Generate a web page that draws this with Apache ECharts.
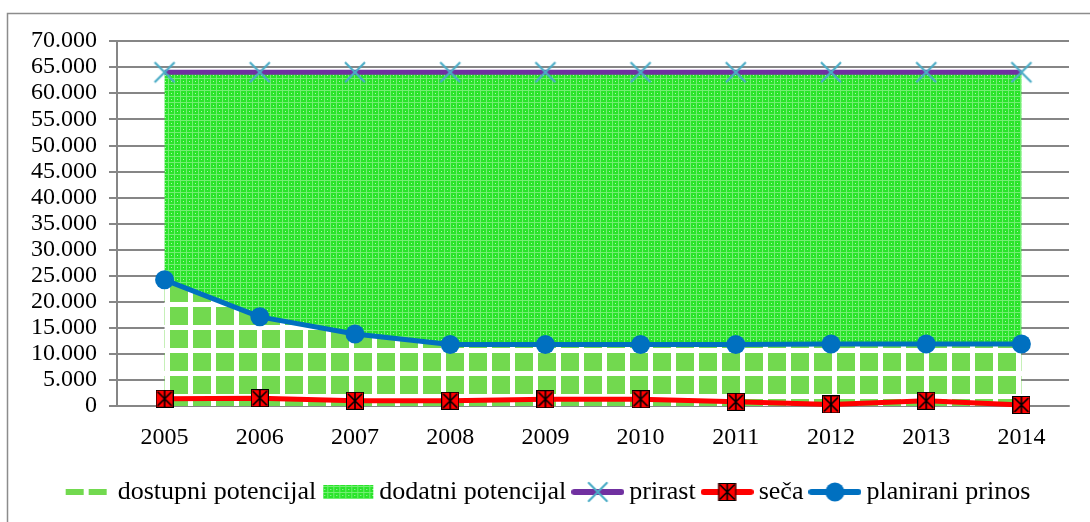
<!DOCTYPE html>
<html>
<head>
<meta charset="utf-8">
<script src="https://cdn.jsdelivr.net/npm/echarts@6/dist/echarts.min.js"></script>
<style>
  html, body { margin: 0; padding: 0; background: #fff; }
  #chart { width: 1090px; height: 522px; }
</style>
</head>
<body>
<div id="chart"></div>
<script>
// podaci
const years = ['2005', '2006', '2007', '2008', '2009', '2010', '2011', '2012', '2013', '2014']
const prirast = [64000, 64000, 64000, 64000, 64000, 64000, 64000, 64000, 64000, 64000]
const seca = [1400, 1500, 1000, 1000, 1300, 1300, 800, 300, 1000, 200]
const planiraniPrinos = [24200, 17100, 13800, 11800, 11800, 11800, 11800, 11900, 11900, 11900]

// dostupni = planirani prinos, dodatni = prirast - planirani prinos
const dostupni = planiraniPrinos.slice()
const dodatni = prirast.map((v, i) => v - planiraniPrinos[i])

const FONT = '"Liberation Serif", "Times New Roman", serif'

const makeCanvas = (w, h, draw) => {
  const c = document.createElement('canvas')
  c.width = w
  c.height = h
  draw(c.getContext('2d'))
  return c
}

// uzorak za dostupni potencijal - zeleni kvadrati
const tilePattern = makeCanvas(23, 23, ctx => {
  ctx.fillStyle = '#ffffff'
  ctx.fillRect(0, 0, 23, 23)
  ctx.fillStyle = '#72d94f'
  for (const dx of [0, -23]) {
    for (const dy of [0, -23]) {
      ctx.fillRect(9 + dx, 8 + dy, 18, 18)
    }
  }
})

// uzorak za dodatni potencijal - sitna mreza
const gridPattern = makeCanvas(6, 6, ctx => {
  ctx.fillStyle = '#2ae42a'
  ctx.fillRect(0, 0, 6, 6)
  ctx.fillStyle = '#72ef72'
  ctx.fillRect(0, 0, 6, 1)
  ctx.fillRect(0, 0, 1, 6)
  ctx.fillStyle = '#b0f6b0'
  ctx.fillRect(3, 3, 1, 1)
})

// simboli
const drawX = (ctx, cx, cy, r) => {
  ctx.strokeStyle = '#4bacc6'
  ctx.lineWidth = 2.2
  ctx.beginPath()
  ctx.moveTo(cx - r, cy - r); ctx.lineTo(cx + r, cy + r)
  ctx.moveTo(cx + r, cy - r); ctx.lineTo(cx - r, cy + r)
  ctx.stroke()
}

const drawSeca = (ctx, x, y) => {
  ctx.fillStyle = '#ff0000'
  ctx.fillRect(x, y, 18, 18)
  ctx.strokeStyle = '#000000'
  ctx.lineWidth = 1
  ctx.strokeRect(x + 0.5, y + 0.5, 17, 17)
  ctx.lineWidth = 1.6
  ctx.beginPath()
  ctx.moveTo(x + 2, y + 2); ctx.lineTo(x + 16, y + 16)
  ctx.moveTo(x + 16, y + 2); ctx.lineTo(x + 2, y + 16)
  ctx.moveTo(x + 9, y + 1); ctx.lineTo(x + 9, y + 17)
  ctx.stroke()
}

const xSymbol = makeCanvas(24, 24, ctx => drawX(ctx, 12, 12, 10)).toDataURL()
const secaSymbol = makeCanvas(18, 18, ctx => drawSeca(ctx, 0, 0)).toDataURL()

// ikone legende
const LW = 53, LH = 24
const lineIcon = (color, drawMark) => makeCanvas(LW, LH, ctx => {
  ctx.strokeStyle = color
  ctx.lineWidth = 6
  ctx.lineCap = 'round'
  ctx.beginPath()
  ctx.moveTo(3, LH / 2); ctx.lineTo(LW - 3, LH / 2)
  ctx.stroke()
  drawMark(ctx)
}).toDataURL()

const dostupniIcon = makeCanvas(LW, LH, ctx => {
  ctx.fillStyle = '#72d94f'
  ctx.fillRect(6, 9, 18, 6)
  ctx.fillRect(29, 9, 18, 6)
}).toDataURL()

const dodatniIcon = makeCanvas(LW, LH, ctx => {
  ctx.fillStyle = ctx.createPattern(gridPattern, 'repeat')
  ctx.fillRect(2, 5, 50, 14)
}).toDataURL()

const prirastIcon = lineIcon('#7030a0', ctx => drawX(ctx, LW / 2, LH / 2, 9))
const secaIcon = lineIcon('#ff0000', ctx => drawSeca(ctx, LW / 2 - 9, LH / 2 - 9))
const prinosIcon = lineIcon('#0070c0', ctx => {
  ctx.fillStyle = '#0070c0'
  ctx.beginPath()
  ctx.arc(LW / 2, LH / 2, 9.5, 0, Math.PI * 2)
  ctx.fill()
})

const chart = echarts.init(document.getElementById('chart'))

const option = {
  animation: false,
  textStyle: { fontFamily: FONT },
  graphic: [{
    type: 'rect',
    shape: { x: 7.5, y: 13.5, width: 1200, height: 1200 },
    style: { fill: 'none', stroke: '#8c8c8c', lineWidth: 1.5 },
    silent: true,
    z: -10
  }],
  grid: {
    left: 117,
    right: 21,
    top: 41,
    bottom: 116
  },
  legend: {
    bottom: 12,
    left: 'center',
    itemWidth: LW,
    itemHeight: LH,
    itemGap: 5,
    textStyle: { fontFamily: FONT, fontSize: 26, color: '#000' },
    data: [
      { name: 'dostupni potencijal', icon: 'image://' + dostupniIcon },
      { name: 'dodatni potencijal', icon: 'image://' + dodatniIcon },
      { name: 'prirast', icon: 'image://' + prirastIcon },
      { name: 'seča', icon: 'image://' + secaIcon },
      { name: 'planirani prinos', icon: 'image://' + prinosIcon }
    ]
  },
  xAxis: {
    type: 'category',
    data: years,
    boundaryGap: true,
    axisLine: { lineStyle: { color: '#868686', width: 2 } },
    axisTick: { length: 8, lineStyle: { color: '#868686', width: 2 } },
    axisLabel: { color: '#000', fontSize: 24, fontFamily: FONT, margin: 20 }
  },
  yAxis: {
    type: 'value',
    min: 0,
    max: 70000,
    interval: 5000,
    axisLine: { show: true, lineStyle: { color: '#868686', width: 2 } },
    axisTick: { show: true, length: 8, lineStyle: { color: '#868686', width: 2 } },
    splitLine: { lineStyle: { color: '#868686', width: 2 } },
    axisLabel: {
      color: '#000',
      fontSize: 24,
      fontFamily: FONT,
      margin: 20,
      formatter: v => v === 0 ? '0' : (v / 1000) + '.000'
    }
  },
  series: [
    {
      name: 'dostupni potencijal',
      type: 'line',
      stack: 'potencijal',
      data: dostupni,
      symbol: 'none',
      lineStyle: { width: 0 },
      itemStyle: { color: '#72d94f' },
      areaStyle: { color: { image: tilePattern, repeat: 'repeat' }, opacity: 1 },
      z: 1
    },
    {
      name: 'dodatni potencijal',
      type: 'line',
      stack: 'potencijal',
      data: dodatni,
      symbol: 'none',
      lineStyle: { width: 0 },
      itemStyle: { color: '#2ae42a' },
      areaStyle: { color: { image: gridPattern, repeat: 'repeat' }, opacity: 1 },
      z: 1
    },
    {
      name: 'prirast',
      type: 'line',
      data: prirast,
      symbol: 'image://' + xSymbol,
      symbolSize: 24,
      lineStyle: { color: '#7030a0', width: 5 },
      itemStyle: { color: '#7030a0' },
      z: 3
    },
    {
      name: 'seča',
      type: 'line',
      data: seca,
      symbol: 'image://' + secaSymbol,
      symbolSize: 18,
      lineStyle: { color: '#ff0000', width: 5 },
      itemStyle: { color: '#ff0000' },
      z: 3
    },
    {
      name: 'planirani prinos',
      type: 'line',
      data: planiraniPrinos,
      symbol: 'circle',
      symbolSize: 19,
      lineStyle: { color: '#0070c0', width: 5 },
      itemStyle: { color: '#0070c0' },
      z: 4
    }
  ]
}

chart.setOption(option)
</script>
</body>
</html>
